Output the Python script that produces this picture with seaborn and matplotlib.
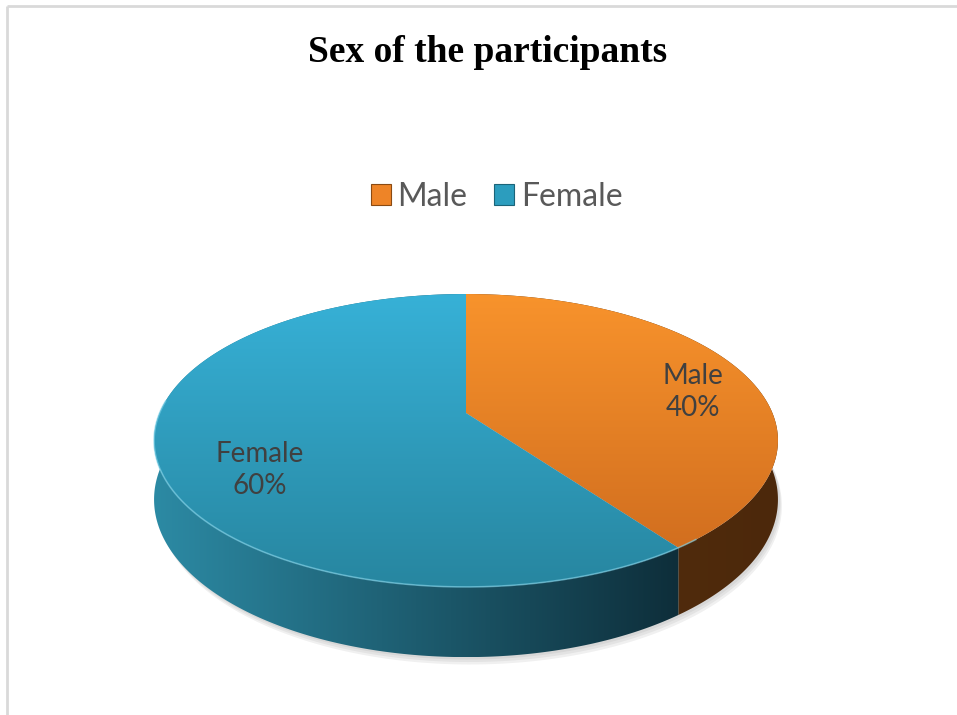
import numpy as np
import matplotlib
matplotlib.use("Agg")
import matplotlib.pyplot as plt
from matplotlib.patches import Polygon, Patch
from matplotlib.colors import LinearSegmentedColormap
import seaborn as sns

# ---- data -------------------------------------------------------------
categories = ["Male", "Female"]
shares = [40, 60]
title = "Sex of the participants"

# ---- style ------------------------------------------------------------
sns.set_theme(style="white")
plt.rcParams["font.family"] = ["Lato", "DejaVu Sans"]

top_colors = {"Male": ("#F8932C", "#CC691D"), "Female": ("#37B1D7", "#2786A0")}
side_colors = {"Male": ("#58310F", "#4C280B"), "Female": ("#2C8AA4", "#0E2E3A")}
legend_colors = {"Male": "#EE8427", "Female": "#2C9DBE"}
label_color = "#404040"
# radial position and vertical nudge of each data label
label_place = {"Male": (0.816, 13), "Female": (0.68, 26)}

W, H = 957, 715
fig = plt.figure(figsize=(W / 100, H / 100), dpi=100)
ax = fig.add_axes([0, 0, 1, 1])
ax.set_xlim(0, W)
ax.set_ylim(H, 0)
ax.axis("off")

# frame lines of the chart area
ax.plot([7, W], [6, 6], color="#D9D9D9", lw=2, solid_capstyle="butt")
ax.plot([7, 7], [6, H], color="#D9D9D9", lw=2, solid_capstyle="butt")

# ---- perspective projection of a tilted disc --------------------------
CX, CY = 466, 413          # projected centre of the top face
A, B, K = 306.4, 141.3, 0.1877
DEPTH = 57                 # thickness of the disc


def project(t_deg, r=1.0, drop=0.0):
    t = np.radians(t_deg)
    x = r * np.cos(t)
    y = r * np.sin(t)
    w = 1 + K * y
    return CX + A * x / w, CY - B * y / w + drop / w


def gradient_fill(xy, c0, c1, horizontal=False, z=1):
    poly = Polygon(xy, closed=True, facecolor="none", edgecolor="none")
    ax.add_patch(poly)
    cmap = LinearSegmentedColormap.from_list("g", [c0, c1])
    x0, y0 = xy[:, 0].min(), xy[:, 1].min()
    x1, y1 = xy[:, 0].max(), xy[:, 1].max()
    ramp = np.linspace(0, 1, 256)
    img = ramp[None, :] if horizontal else ramp[:, None]
    im = ax.imshow(img, cmap=cmap, extent=(x0, x1, y1, y0), aspect="auto",
                   interpolation="bilinear", zorder=z)
    im.set_clip_path(poly)


fractions = np.array(shares, dtype=float) / sum(shares)
edges = 90 - 360 * np.concatenate([[0], np.cumsum(fractions)])

# soft shadow beneath the disc
ts = np.linspace(0, 360, 400)
for i, a in enumerate([0.05, 0.05, 0.06]):
    sx, sy = project(ts, drop=DEPTH + 2 + 2 * i)
    ax.fill(sx + 2 + i, sy, color="#000000", alpha=a, lw=0, zorder=0.5)

# side walls
for cat, t0, t1 in zip(categories, edges[:-1], edges[1:]):
    t = np.linspace(t0, t1, 300)
    tx, ty = project(t)
    bx, by = project(t[::-1], drop=DEPTH)
    xy = np.column_stack([np.concatenate([tx, bx]), np.concatenate([ty, by])])
    c0, c1 = side_colors[cat]
    gradient_fill(xy, c0, c1, horizontal=True, z=1)

# top faces
y_top = project(90)[1]
y_bot = project(270)[1]
for cat, t0, t1 in zip(categories, edges[:-1], edges[1:]):
    t = np.linspace(t0, t1, 300)
    tx, ty = project(t)
    xy = np.column_stack([np.concatenate([[CX], tx]), np.concatenate([[CY], ty])])
    poly = Polygon(xy, closed=True, facecolor="none", edgecolor="none")
    ax.add_patch(poly)
    c0, c1 = top_colors[cat]
    cmap = LinearSegmentedColormap.from_list("g", [c0, c1])
    im = ax.imshow(np.linspace(0, 1, 256)[:, None], cmap=cmap,
                   extent=(CX - 330, CX + 330, y_bot, y_top), aspect="auto",
                   interpolation="bilinear", zorder=2)
    im.set_clip_path(poly)

# light rim along the front edge of the top face
rim_t = np.linspace(175, 310, 200)
rx, ry = project(rim_t)
ax.plot(rx, ry, color="#7FD3EA", lw=1.2, alpha=0.6, zorder=3)

# data labels
for cat, v, t0, t1 in zip(categories, shares, edges[:-1], edges[1:]):
    mid = (t0 + t1) / 2
    r, nudge = label_place[cat]
    lx, ly = project(mid, r=r)
    ax.text(lx, ly + nudge, f"{cat}\n{v}%", ha="center", va="center",
            fontsize=20, color=label_color, linespacing=1.25, zorder=4)

# title
fig.text(0.509, 1 - 52 / H, title, ha="center", va="center",
         fontsize=27, fontweight="bold", family="Liberation Serif", color="black")

# legend
handles = [Patch(facecolor=legend_colors[c], edgecolor="#8A4A12" if c == "Male" else "#1B6479",
                 lw=0.8, label=c) for c in categories]
fig.legend(handles=handles, loc="center", bbox_to_anchor=(0.519, 1 - 197 / H),
           ncol=2, frameon=False, fontsize=23, handlelength=0.62, handleheight=0.62,
           handletextpad=0.2, columnspacing=0.85, labelcolor="#595959")

fig.savefig("out.png", dpi=100, facecolor="white")
